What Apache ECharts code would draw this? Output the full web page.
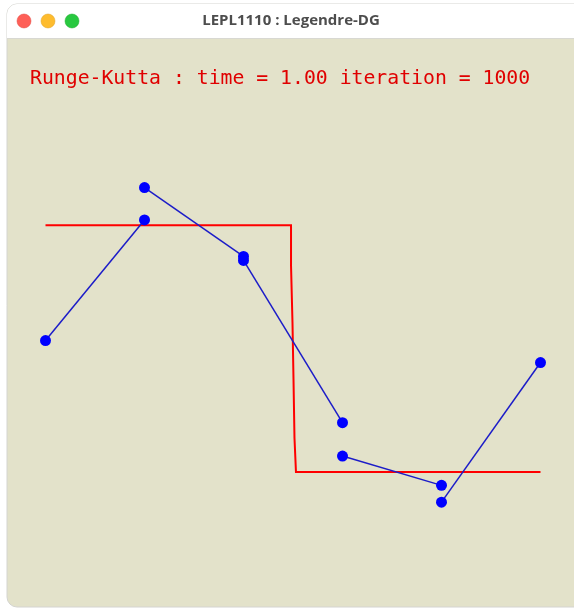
<!DOCTYPE html>
<html>
<head>
<meta charset="utf-8">
<title>LEPL1110 : Legendre-DG</title>
<script src="https://cdn.jsdelivr.net/npm/echarts@6/dist/echarts.min.js"></script>
<style>
  html, body { margin: 0; padding: 0; background: #ffffff; }
  #chart { width: 574px; height: 608px; }
</style>
</head>
<body>
<div id="chart"></div>
<script>
// Discontinuous Galerkin solution: 5 linear elements on [0, 1]
const elementNodes = [0, 0.2, 0.4, 0.6, 0.8, 1.0];
// value at left and right end of each element
const uLeft  = [0.533, 1.153, 0.858, 0.065, -0.122];
const uRight = [1.022, 0.874, 0.200, -0.054, 0.444];

// exact solution (step) sampled as a polyline
const exactX = [0, 0.496, 0.496, 0.499, 0.499, 0.501, 0.501, 0.503, 0.503, 0.506, 0.506, 1.0];
const exactU = [1, 1, 0.837, 0.837, 0.602, 0.602, 0.378, 0.378, 0.138, 0.138, 0, 0];

const windowTitle = 'LEPL1110 : Legendre-DG';
const statusText = 'Runge-Kutta : time = 1.00 iteration = 1000';

const chart = echarts.init(document.getElementById('chart'), null, { renderer: 'canvas' });

const series = [{
  type: 'line',
  data: exactX.map((x, i) => [x, exactU[i]]),
  showSymbol: false,
  symbol: 'none',
  clip: false,
  lineStyle: { color: '#ff0000', width: 2, join: 'miter' },
  z: 2,
  silent: true
}];

for (let e = 0; e < uLeft.length; e++) {
  series.push({
    type: 'line',
    data: [[elementNodes[e], uLeft[e]], [elementNodes[e + 1], uRight[e]]],
    symbol: 'circle',
    symbolSize: 11,
    showAllSymbol: true,
    clip: false,
    itemStyle: { color: '#0000ff' },
    lineStyle: { color: '#1c1cc8', width: 1.5 },
    z: 3,
    silent: true
  });
}

chart.setOption({
  animation: false,
  backgroundColor: '#ffffff',
  graphic: [
    // window frame
    { type: 'rect', shape: { x: 7, y: 4, width: 580, height: 603, r: 10 },
      style: { fill: '#e3e2ca', stroke: '#d4d4d0', lineWidth: 1 }, z: -10 },
    // title bar
    { type: 'rect', shape: { x: 7, y: 4, width: 580, height: 34, r: [10, 10, 0, 0] },
      style: { fill: '#ffffff' }, z: -9 },
    { type: 'line', shape: { x1: 7, y1: 38.5, x2: 580, y2: 38.5 },
      style: { stroke: '#d8d8d2', lineWidth: 1 }, z: -8 },
    { type: 'circle', shape: { cx: 24, cy: 21, r: 7 }, style: { fill: '#fe5f57', stroke: '#e2463f', lineWidth: 0.5 }, z: -8 },
    { type: 'circle', shape: { cx: 48, cy: 21, r: 7 }, style: { fill: '#febc2e', stroke: '#dea123', lineWidth: 0.5 }, z: -8 },
    { type: 'circle', shape: { cx: 72, cy: 21, r: 7 }, style: { fill: '#28c840', stroke: '#1aab29', lineWidth: 0.5 }, z: -8 },
    { type: 'text', x: 291, y: 21,
      style: { text: windowTitle, fill: '#4d4d4d', font: 'bold 15px "Open Sans", "DejaVu Sans", sans-serif',
               textAlign: 'center', textVerticalAlign: 'middle' }, z: -8 },
    // status line
    { type: 'text', x: 30, y: 79,
      style: { text: statusText, fill: '#e00000', font: '19.8px "DejaVu Sans Mono", monospace',
               textAlign: 'left', textVerticalAlign: 'middle' }, z: 5 }
  ],
  grid: { left: 45.5, width: 495, top: 102, height: 493.4, containLabel: false },
  xAxis: { type: 'value', min: 0, max: 1, show: false },
  yAxis: { type: 'value', min: -0.5, max: 1.5, show: false },
  series: series
});
</script>
</body>
</html>
